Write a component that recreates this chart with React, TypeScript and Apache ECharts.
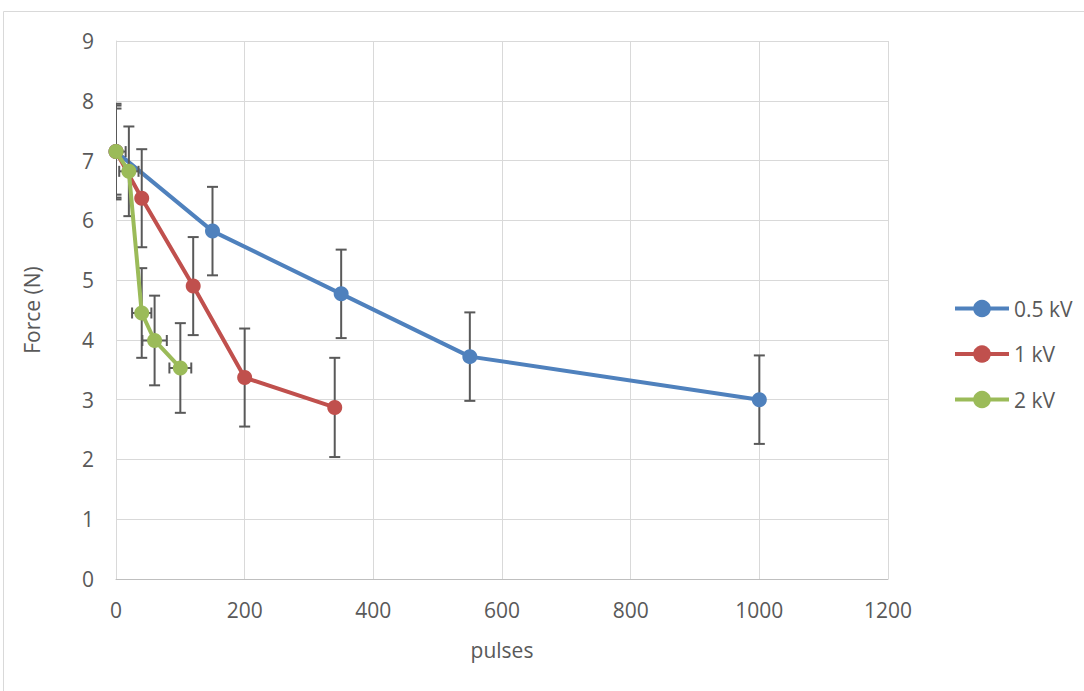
import React, { useEffect, useRef } from "react";
import * as echarts from "echarts";

const seriesNames = ["0.5 kV", "1 kV", "2 kV"];
const colors = ["#4F81BD", "#C0504D", "#9BBB59"];

const blueX = [0, 150, 350, 550, 1000];
const blueY = [7.15, 5.82, 4.77, 3.72, 3.0];
const blueErrY = [0.72, 0.74, 0.74, 0.74, 0.74];
const blueErrX = [0, 0, 0, 0, 0];

const redX = [0, 40, 120, 200, 340];
const redY = [7.15, 6.37, 4.9, 3.37, 2.87];
const redErrY = [0.8, 0.82, 0.82, 0.82, 0.83];
const redErrX = [0, 0, 0, 0, 0];

const greenX = [0, 20, 40, 60, 100];
const greenY = [7.15, 6.82, 4.45, 3.99, 3.53];
const greenErrY = [0.77, 0.75, 0.75, 0.75, 0.75];
const greenErrX = [15, 15, 15, 19, 17];

const xTicks = { min: 0, max: 1200, interval: 200 };
const yTicks = { min: 0, max: 9, interval: 1 };

const FONT = "'Open Sans', 'Liberation Sans', sans-serif";
const TEXT = "#595959";
const ERR = "#595959";
const FS = 21;

function pairs(xs: number[], ys: number[]) {
  return xs.map((x, i) => [x, ys[i]]);
}
function errRows(xs: number[], ys: number[], ey: number[], ex: number[]) {
  return xs.map((x, i) => [x, ys[i], ey[i], ex[i]]);
}

function renderErr(params: any, api: any) {
  const x = api.value(0);
  const y = api.value(1);
  const ey = api.value(2);
  const ex = api.value(3);
  const cap = 5.5;
  const style = { stroke: ERR, lineWidth: 2 };
  const top = api.coord([x, y + ey]);
  const bot = api.coord([x, y - ey]);
  const children: any[] = [
    { type: "line", shape: { x1: top[0], y1: top[1], x2: bot[0], y2: bot[1] }, style },
    { type: "line", shape: { x1: top[0] - cap, y1: top[1], x2: top[0] + cap, y2: top[1] }, style },
    { type: "line", shape: { x1: bot[0] - cap, y1: bot[1], x2: bot[0] + cap, y2: bot[1] }, style },
  ];
  if (ex > 0) {
    const l = api.coord([x - ex, y]);
    const r = api.coord([x + ex, y]);
    children.push(
      { type: "line", shape: { x1: l[0], y1: l[1], x2: r[0], y2: r[1] }, style },
      { type: "line", shape: { x1: l[0], y1: l[1] - cap, x2: l[0], y2: l[1] + cap }, style },
      { type: "line", shape: { x1: r[0], y1: r[1] - cap, x2: r[0], y2: r[1] + cap }, style }
    );
  }
  return { type: "group", children };
}

export default function App() {
  const ref = useRef<HTMLDivElement>(null);
  useEffect(() => {
    if (!ref.current) return;
    const chart = echarts.init(ref.current, undefined, { renderer: "svg" });
    const data = [
      { x: blueX, y: blueY, ey: blueErrY, ex: blueErrX },
      { x: redX, y: redY, ey: redErrY, ex: redErrX },
      { x: greenX, y: greenY, ey: greenErrY, ex: greenErrX },
    ];
    const series: any[] = [];
    data.forEach((d, i) => {
      series.push({
        name: seriesNames[i] + " err",
        type: "custom",
        renderItem: renderErr,
        data: errRows(d.x, d.y, d.ey, d.ex),
        encode: { x: 0, y: 1 },
        clip: true,
        z: 2 + i * 2,
        silent: true,
      });
      series.push({
        name: seriesNames[i],
        type: "line",
        data: pairs(d.x, d.y),
        symbol: "circle",
        symbolSize: 15,
        showSymbol: true,
        lineStyle: { color: colors[i], width: 4 },
        itemStyle: { color: colors[i] },
        z: 3 + i * 2,
      });
    });
    chart.setOption({
      animation: false,
      textStyle: { fontFamily: FONT },
      grid: { left: 116, right: 196, top: 41, bottom: 112 },
      legend: {
        data: seriesNames,
        orient: "vertical",
        left: 953,
        top: 298,
        padding: 0,
        itemWidth: 54,
        itemHeight: 22,
        itemGap: 24.5,
        lineStyle: { width: 4 },
        itemStyle: { borderWidth: 0 },
        textStyle: { fontSize: FS, color: TEXT, fontFamily: FONT },
      },
      xAxis: {
        type: "value",
        ...xTicks,
        name: "pulses",
        nameLocation: "middle",
        nameGap: 60,
        nameTextStyle: { fontSize: FS, color: TEXT, fontFamily: FONT },
        axisLine: { show: true, lineStyle: { color: "#BFBFBF", width: 1 } },
        axisTick: { show: false },
        splitLine: { show: true, lineStyle: { color: "#D9D9D9", width: 1 } },
        axisLabel: {
          fontSize: FS,
          color: TEXT,
          margin: 20,
          fontFamily: FONT,
          formatter: (v: number) => String(v),
        },
      },
      yAxis: {
        type: "value",
        ...yTicks,
        name: "Force (N)",
        nameLocation: "middle",
        nameGap: 74,
        nameTextStyle: { fontSize: FS, color: TEXT, fontFamily: FONT },
        axisLine: { show: true, lineStyle: { color: "#D9D9D9", width: 1 } },
        axisTick: { show: false },
        splitLine: { show: true, lineStyle: { color: "#D9D9D9", width: 1 } },
        axisLabel: { fontSize: FS, color: TEXT, margin: 22, fontFamily: FONT },
      },
      graphic: [
        {
          type: "rect",
          shape: { x: 3.5, y: 11.5, width: 1200, height: 800 },
          style: { fill: "none", stroke: "#D9D9D9", lineWidth: 1 },
          silent: true,
          z: -10,
        },
      ],
      series,
    });
    return () => chart.dispose();
  }, []);
  return (
    <div
      ref={ref}
      style={{ position: "absolute", left: 0, top: 0, width: 1084, height: 691, background: "#fff" }}
    />
  );
}
